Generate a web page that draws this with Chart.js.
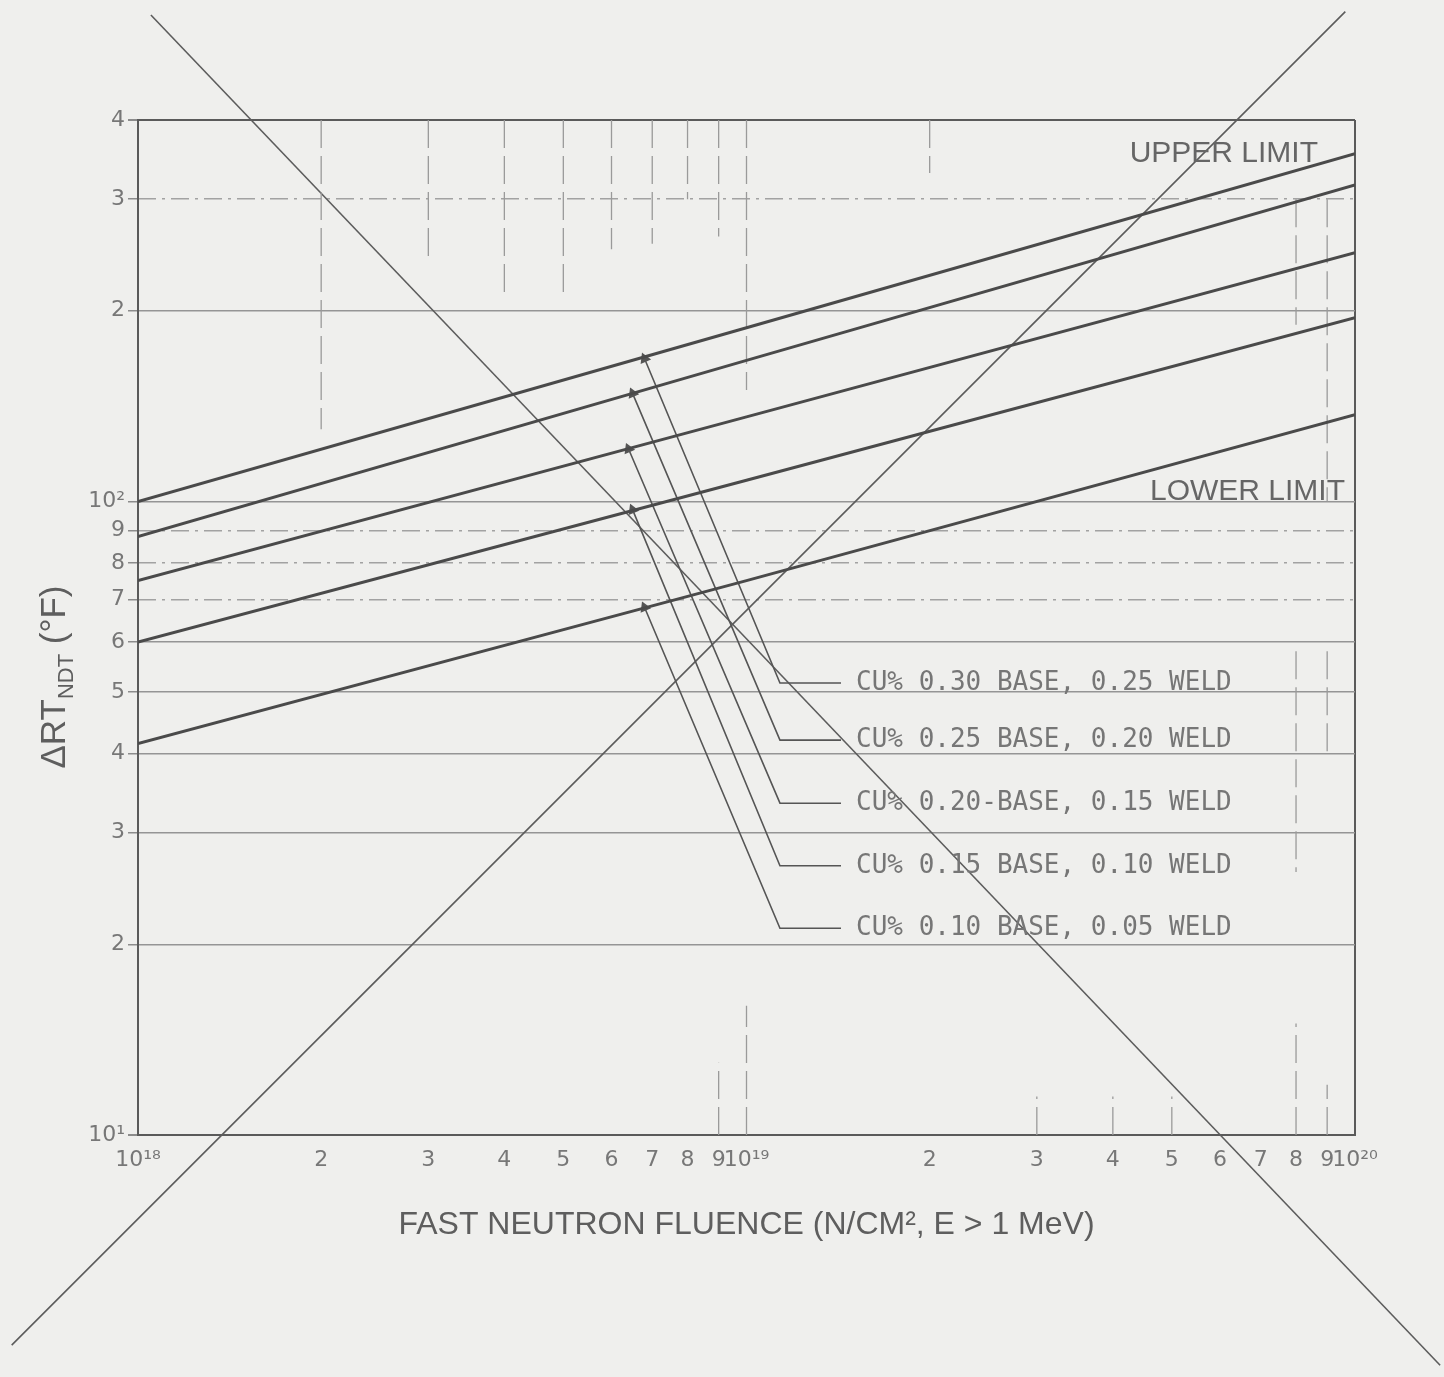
<!DOCTYPE html>
<html>
<head>
<meta charset="utf-8">
<title>Delta RT_NDT vs fast neutron fluence</title>
<script src="https://cdn.jsdelivr.net/npm/chart.js@4.4.1/dist/chart.umd.min.js"></script>
<style>
  html, body { margin: 0; padding: 0; background: #efefed; }
  #wrap { width: 1444px; height: 1377px; }
</style>
</head>
<body>
<div id="wrap"><canvas id="chart" width="1444" height="1377"></canvas></div>
<script>
// fluence values (n/cm2) where the curves were read
var fluence = [1e18, 1e19, 1e20];

// delta RT_NDT (F) for each copper content
var cu30 = [100, 188, 354];
var cu25 = [88, 167, 316];
var cu20 = [75, 136, 247];
var cu15 = [60, 108, 195];
var cu10 = [41.5, 75, 137];

var cuLabels = [
    "CU% 0.30 BASE, 0.25 WELD",
    "CU% 0.25 BASE, 0.20 WELD",
    "CU% 0.20-BASE, 0.15 WELD",
    "CU% 0.15 BASE, 0.10 WELD",
    "CU% 0.10 BASE, 0.05 WELD"
];

// leader lines: arrow tip on the curve, elbow, end next to the label
var arrowX = [6.8e18, 6.5e18, 6.4e18, 6.5e18, 6.8e18];
var arrowY = [168, 148, 121, 97, 68];
var elbowX = 1.135e19;
var leaderEndX = 1.43e19;
var elbowY = [51.7, 42, 33.4, 26.6, 21.2];

var xTicks = [1e18, 2e18, 3e18, 4e18, 5e18, 6e18, 7e18, 8e18, 9e18,
              1e19, 2e19, 3e19, 4e19, 5e19, 6e19, 7e19, 8e19, 9e19, 1e20];
var yTicks = [10, 20, 30, 40, 50, 60, 70, 80, 90, 100, 200, 300, 400];
var yDashTicks = [70, 80, 90, 300];

// short vertical grid pieces that were drawn: [fluence, from, to]
var vSegs = [
    [2e18, 400, 130], [3e18, 400, 240], [4e18, 400, 210], [5e18, 400, 212],
    [6e18, 400, 250], [7e18, 400, 255], [8e18, 400, 300], [9e18, 400, 262],
    [1e19, 400, 150], [2e19, 400, 330],
    [9e18, 10, 13], [1e19, 10, 16], [3e19, 10, 11.5], [4e19, 10, 11.5],
    [5e19, 10, 11.5], [8e19, 10, 15], [9e19, 10, 12],
    [8e19, 300, 190], [8e19, 58, 26], [9e19, 300, 100], [9e19, 58, 40]
];

// the large cross drawn over the sheet (end points)
var crossA = [[1.05e18, 586], [1.38e20, 4.33]];
var crossB = [[6.2e17, 4.66], [9.64e19, 593]];

var sup = { "0": "\u2070", "1": "\u00b9", "2": "\u00b2", "8": "\u2078", "9": "\u2079" };
function tickText(v) {
    var e = Math.floor(Math.log10(v) + 1e-9);
    var m = Math.round(v / Math.pow(10, e));
    if (m === 1) {
        return "10" + String(e).split("").map(function (d) { return sup[d]; }).join("");
    }
    return String(m);
}

var ink = "#4a4a4a";
var datasets = [];

[cu30, cu25, cu20, cu15, cu10].forEach(function (arr) {
    datasets.push({
        data: fluence.map(function (f, i) { return { x: f, y: arr[i] }; }),
        showLine: true, borderColor: ink, borderWidth: 3, pointRadius: 0
    });
});

cuLabels.forEach(function (t, i) {
    datasets.push({
        data: [{ x: arrowX[i], y: arrowY[i] }, { x: elbowX, y: elbowY[i] }, { x: leaderEndX, y: elbowY[i] }],
        showLine: true, borderColor: "#555", borderWidth: 1.6,
        pointRadius: [5, 0, 0], pointStyle: "triangle", pointRotation: -23,
        pointBackgroundColor: "#555", pointBorderColor: "#555"
    });
});

vSegs.forEach(function (s) {
    datasets.push({
        data: [{ x: s[0], y: s[1] }, { x: s[0], y: s[2] }],
        showLine: true, borderColor: "#9a9a9a", borderWidth: 1.3,
        borderDash: [28, 8], pointRadius: 0
    });
});

[crossA, crossB].forEach(function (c) {
    datasets.push({
        data: c.map(function (p) { return { x: p[0], y: p[1] }; }),
        showLine: true, borderColor: "#5c5c5c", borderWidth: 1.6,
        pointRadius: 0, clip: false
    });
});

var textPlugin = {
    id: "sheetText",
    afterDraw: function (chart) {
        var ctx = chart.ctx, a = chart.chartArea;
        var xs = chart.scales.x, ys = chart.scales.y;
        ctx.save();
        ctx.fillStyle = "#666";

        ctx.font = "30px 'Liberation Sans', Arial, sans-serif";
        ctx.textAlign = "right";
        ctx.textBaseline = "alphabetic";
        ctx.fillText("UPPER LIMIT", a.right - 37, ys.getPixelForValue(400) + 42);
        ctx.fillText("LOWER LIMIT", a.right - 10, ys.getPixelForValue(100) - 1);

        ctx.font = "26px 'DejaVu Sans Mono', monospace";
        ctx.textAlign = "left";
        ctx.textBaseline = "middle";
        ctx.fillStyle = "#767676";
        cuLabels.forEach(function (t, i) {
            ctx.fillText(t, xs.getPixelForValue(leaderEndX) + 15, ys.getPixelForValue(elbowY[i]));
        });

        ctx.fillStyle = "#5e5e5e";
        ctx.font = "32px 'Liberation Sans', Arial, sans-serif";
        ctx.textAlign = "center";
        ctx.textBaseline = "middle";
        ctx.fillText("FAST NEUTRON FLUENCE (N/CM\u00b2, E > 1 MeV)", (a.left + a.right) / 2, a.bottom + 90);

        // rotated y title with subscript
        ctx.translate(54, 677);
        ctx.rotate(-Math.PI / 2);
        ctx.textAlign = "left";
        ctx.textBaseline = "alphabetic";
        var big = "35px 'Liberation Sans', Arial, sans-serif";
        var small = "22px 'Liberation Sans', Arial, sans-serif";
        ctx.font = big; var w1 = ctx.measureText("\u0394RT").width;
        ctx.font = small; var w2 = ctx.measureText("NDT").width;
        ctx.font = big; var w3 = ctx.measureText(" (\u00b0F)").width;
        var x0 = -(w1 + w2 + w3) / 2;
        ctx.font = big; ctx.fillText("\u0394RT", x0, 11);
        ctx.font = small; ctx.fillText("NDT", x0 + w1, 19);
        ctx.font = big; ctx.fillText(" (\u00b0F)", x0 + w1 + w2, 11);
        ctx.restore();
    }
};

new Chart(document.getElementById("chart").getContext("2d"), {
    type: "scatter",
    data: { datasets: datasets },
    options: {
        responsive: false,
        animation: false,
        devicePixelRatio: 1,
        events: [],
        layout: { padding: { left: 0, right: 89, top: 120, bottom: 0 } },
        plugins: { legend: { display: false }, tooltip: { enabled: false } },
        scales: {
            x: {
                type: "logarithmic", min: 1e18, max: 1e20, position: "bottom",
                afterBuildTicks: function (s) { s.ticks = xTicks.map(function (v) { return { value: v }; }); },
                afterFit: function (s) { s.height = 242; },
                ticks: {
                    autoSkip: false, maxRotation: 0, padding: 12, color: "#777",
                    font: { family: "'DejaVu Sans', sans-serif", size: 22 },
                    callback: function (v) { return tickText(v); }
                },
                grid: {
                    drawTicks: false, lineWidth: 2,
                    color: function (c) { return c.tick && c.tick.value === 1e20 ? "#5a5a5a" : "rgba(0,0,0,0)"; }
                },
                border: { display: true, color: "#5a5a5a", width: 2 }
            },
            y: {
                type: "logarithmic", min: 10, max: 400, position: "left",
                afterBuildTicks: function (s) { s.ticks = yTicks.map(function (v) { return { value: v }; }); },
                afterFit: function (s) { s.width = 138; },
                ticks: {
                    padding: 3, color: "#777",
                    font: { family: "'DejaVu Sans', sans-serif", size: 22 },
                    callback: function (v) { return tickText(v); }
                },
                grid: {
                    tickLength: 10, tickColor: "#8c8c8c",
                    color: function (c) {
                        var v = c.tick && c.tick.value;
                        if (v === 10 || v === 400) return "#5a5a5a";
                        if (yDashTicks.indexOf(v) >= 0) return "rgba(0,0,0,0)";
                        return "#959595";
                    },
                    lineWidth: function (c) {
                        var v = c.tick && c.tick.value;
                        return (v === 10 || v === 400) ? 2 : 1.5;
                    }
                },
                border: { display: true, color: "#5a5a5a", width: 2 }
            },
            y2: {
                type: "logarithmic", min: 10, max: 400, position: "right",
                afterBuildTicks: function (s) { s.ticks = yDashTicks.map(function (v) { return { value: v }; }); },
                afterFit: function (s) { s.width = 0; },
                ticks: { display: false },
                grid: { drawTicks: false, color: "#a2a2a2", lineWidth: 1.5 },
                border: { display: false, dash: [18, 6, 3, 6] }
            }
        }
    },
    plugins: [textPlugin]
});
</script>
</body>
</html>
